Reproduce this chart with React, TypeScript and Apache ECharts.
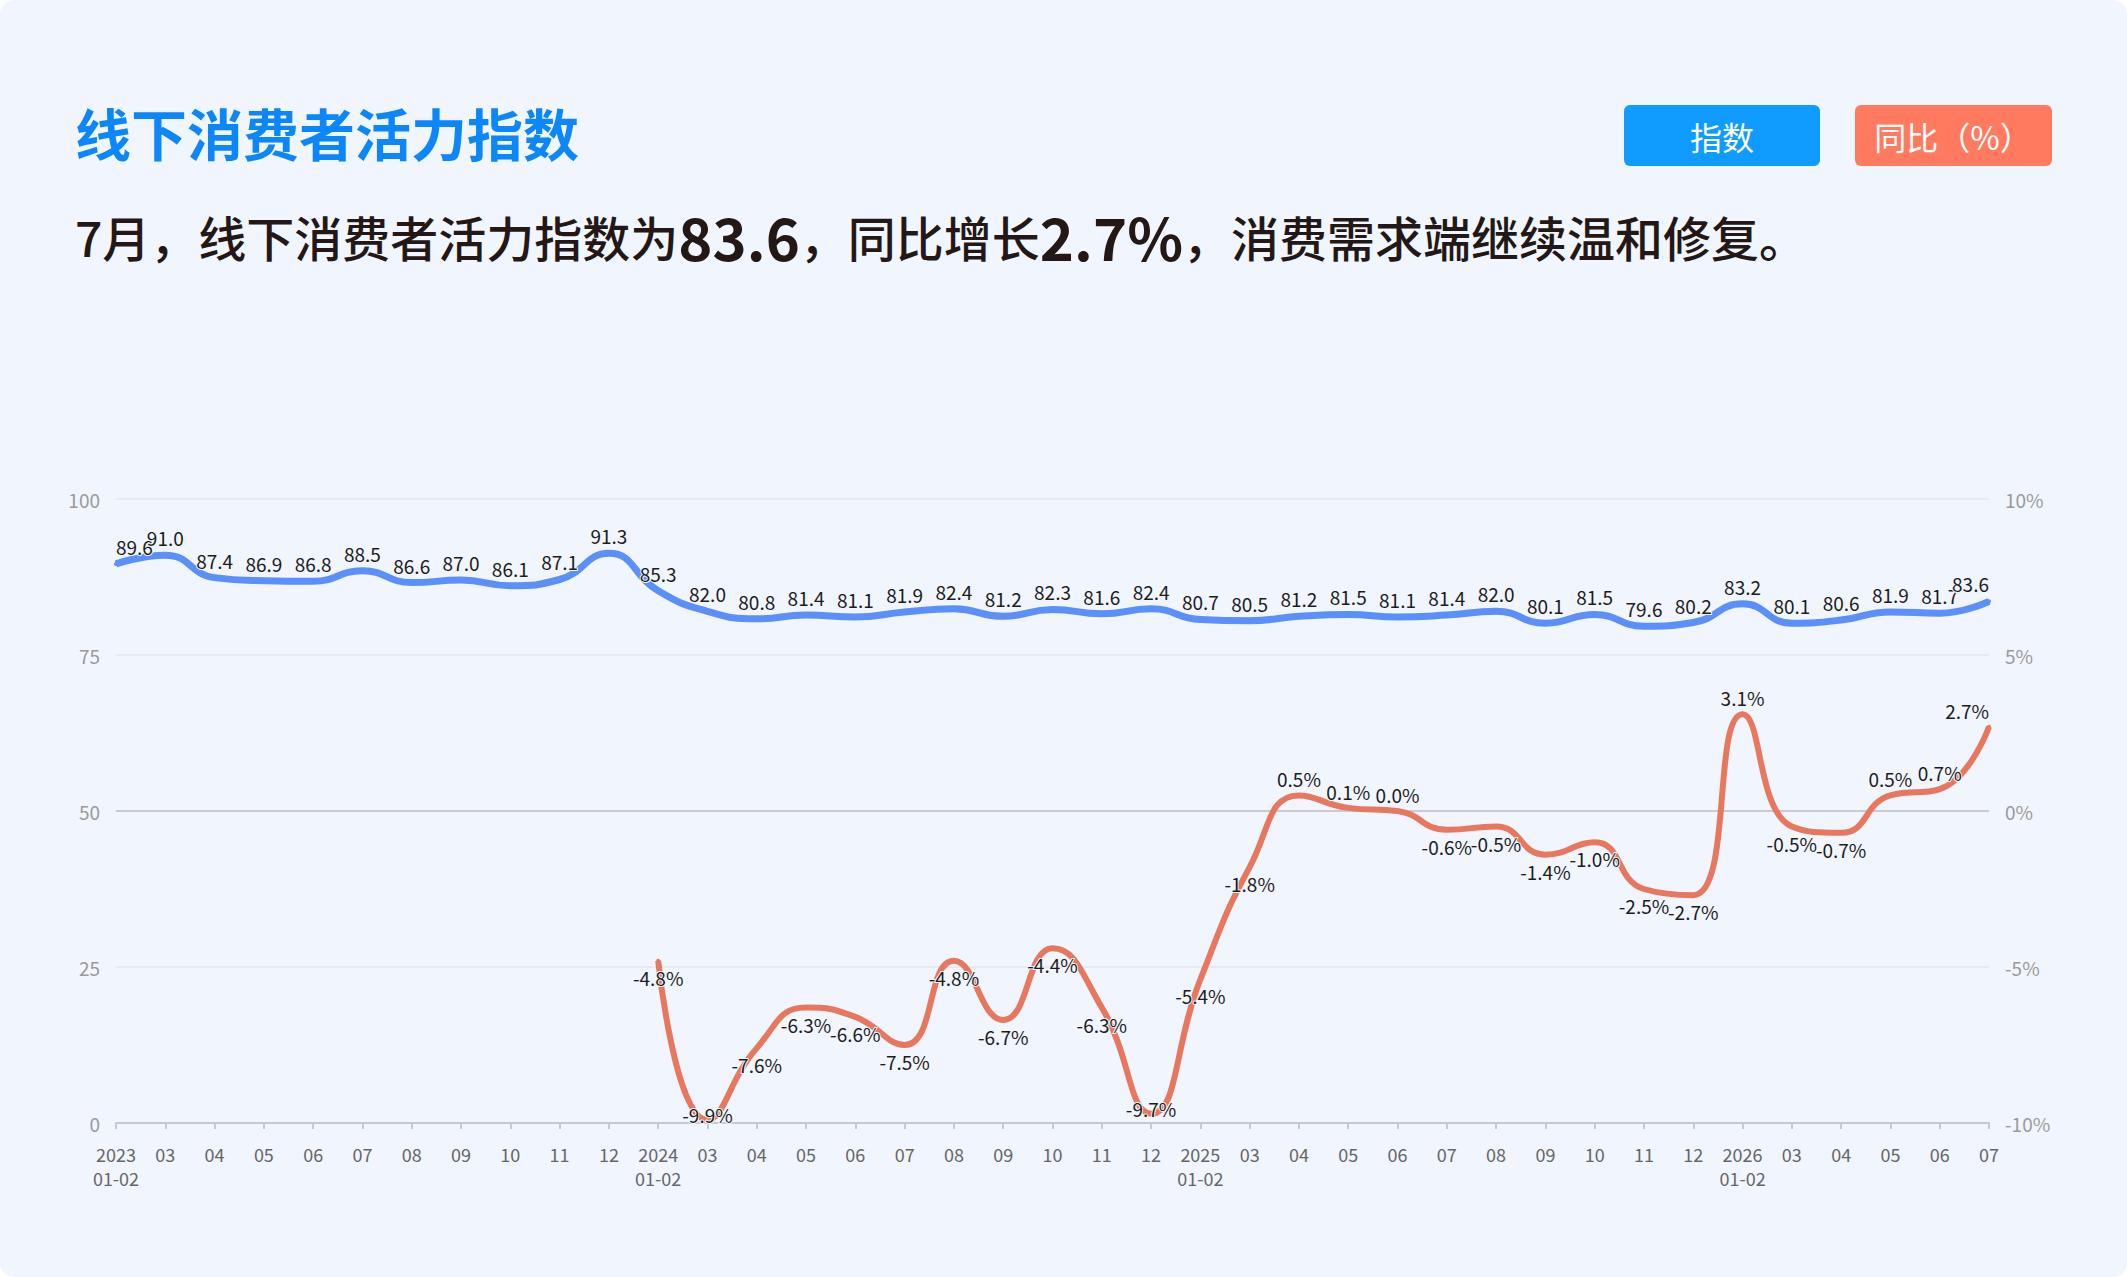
import React, { useEffect, useRef } from 'react';
import * as echarts from 'echarts';

const FONT = '"Noto Sans CJK SC", "Noto Sans", sans-serif';

const titleText = '线下消费者活力指数';
const subtitleParts = ['7月，线下消费者活力指数为', '83.6', '，同比增长', '2.7%', '，消费需求端继续温和修复。'];
const legendNames = ['指数', '同比（%）'];

const categories = [
  '2023\n01-02', '03', '04', '05', '06', '07', '08', '09', '10', '11', '12',
  '2024\n01-02', '03', '04', '05', '06', '07', '08', '09', '10', '11', '12',
  '2025\n01-02', '03', '04', '05', '06', '07', '08', '09', '10', '11', '12',
  '2026\n01-02', '03', '04', '05', '06', '07',
];

const indexValues = [
  89.6, 91.0, 87.4, 86.9, 86.8, 88.5, 86.6, 87.0, 86.1, 87.1, 91.3,
  85.3, 82.0, 80.8, 81.4, 81.1, 81.9, 82.4, 81.2, 82.3, 81.6, 82.4,
  80.7, 80.5, 81.2, 81.5, 81.1, 81.4, 82.0, 80.1, 81.5, 79.6, 80.2,
  83.2, 80.1, 80.6, 81.9, 81.7, 83.6,
];

const yoyValues: (number | null)[] = [
  null, null, null, null, null, null, null, null, null, null, null,
  -4.8, -9.9, -7.6, -6.3, -6.6, -7.5, -4.8, -6.7, -4.4, -6.3, -9.7,
  -5.4, -1.8, 0.5, 0.1, 0.0, -0.6, -0.5, -1.4, -1.0, -2.5, -2.7,
  3.1, -0.5, -0.7, 0.5, 0.7, 2.7,
];

const leftTicks = [0, 25, 50, 75, 100];
const rightTicks = [-10, -5, 0, 5, 10];

const BLUE_LINE = '#5b8ff9';
const RED_LINE = '#e8775f';
const LABEL_COLOR = '#1c1c1c';

export default function App() {
  const ref = useRef<HTMLDivElement>(null);

  useEffect(() => {
    document.body.style.margin = '0';
    document.body.style.background = '#ffffff';
    if (!ref.current) return;
    const chart = echarts.init(ref.current, undefined, { renderer: 'svg' });

    const lastIdx = indexValues.length - 1;
    const baseLabel = {
      show: true,
      fontSize: 19,
      fontFamily: FONT,
      color: LABEL_COLOR,
      textBorderColor: '#f1f5fd',
      textBorderWidth: 2,
    };

    const indexData = indexValues.map((v, i) => ({
      value: v,
      label: {
        ...baseLabel,
        position: 'top',
        distance: 6,
        align: i === 0 ? 'left' : i === lastIdx ? 'right' : 'center',
        formatter: () => v.toFixed(1),
      },
    }));

    const yoyData = yoyValues.map((v, i) => {
      if (v === null) return { value: null };
      let position: any = v >= 0 ? 'top' : 'bottom';
      let offset: number[] = [0, 0];
      if (v <= -9.5) {
        position = 'inside';
        offset = [0, -5];
      }
      return {
        value: v,
        label: {
          ...baseLabel,
          position,
          offset,
          distance: 5,
          align: i === lastIdx ? 'right' : 'center',
          formatter: () => v.toFixed(1) + '%',
        },
      };
    });

    const option: any = {
      animation: false,
      backgroundColor: 'transparent',
      textStyle: { fontFamily: FONT },
      grid: { left: 116, right: 138, top: 499, bottom: 154, containLabel: false },
      graphic: [
        {
          type: 'text',
          x: 75,
          y: 131,
          style: {
            text: titleText,
            fontSize: 56,
            fontWeight: 'bold',
            fontFamily: FONT,
            fill: '#0b87fa',
            align: 'left',
            verticalAlign: 'middle',
          },
        },
        {
          type: 'text',
          x: 75,
          y: 236,
          style: {
            text:
              '{n|' + subtitleParts[0] + '}{b|' + subtitleParts[1] + '}{n|' + subtitleParts[2] +
              '}{b|' + subtitleParts[3] + '}{n|' + subtitleParts[4] + '}',
            align: 'left',
            verticalAlign: 'middle',
            fontFamily: FONT,
            fill: '#231815',
            rich: {
              n: { fontSize: 48, fontWeight: 500, fontFamily: FONT, fill: '#231815' },
              b: { fontSize: 58, fontWeight: 'bold', fontFamily: FONT, fill: '#231815' },
            },
          },
        },
        {
          type: 'rect',
          shape: { x: 1624, y: 105, width: 196, height: 61, r: 6 },
          style: { fill: '#0f9bff' },
        },
        {
          type: 'text',
          x: 1722,
          y: 136,
          style: {
            text: legendNames[0],
            fontSize: 32,
            fontFamily: FONT,
            fill: '#ffffff',
            align: 'center',
            verticalAlign: 'middle',
          },
        },
        {
          type: 'rect',
          shape: { x: 1855, y: 105, width: 197, height: 61, r: 6 },
          style: { fill: '#ff7a5f' },
        },
        {
          type: 'text',
          x: 1953,
          y: 136,
          style: {
            text: legendNames[1],
            fontSize: 32,
            fontFamily: FONT,
            fill: '#ffffff',
            align: 'center',
            verticalAlign: 'middle',
          },
        },
      ],
      xAxis: {
        type: 'category',
        data: categories,
        boundaryGap: false,
        axisLine: { show: true, lineStyle: { color: '#c6c9cf', width: 2 } },
        axisTick: { show: true, length: 6, lineStyle: { color: '#c6c9cf', width: 2 } },
        axisLabel: {
          interval: 0,
          color: '#666666',
          fontSize: 18,
          lineHeight: 24,
          margin: 19,
          fontFamily: FONT,
        },
        splitLine: { show: false },
      },
      yAxis: [
        {
          type: 'value',
          min: leftTicks[0],
          max: leftTicks[leftTicks.length - 1],
          interval: leftTicks[1] - leftTicks[0],
          axisLine: { show: false },
          axisTick: { show: false },
          axisLabel: { color: '#9a9a9a', fontSize: 19, margin: 16, fontFamily: FONT },
          splitLine: { show: true, lineStyle: { color: '#e2e5ec', width: 1.5 } },
        },
        {
          type: 'value',
          min: rightTicks[0],
          max: rightTicks[rightTicks.length - 1],
          interval: rightTicks[1] - rightTicks[0],
          axisLine: { show: false },
          axisTick: { show: false },
          axisLabel: {
            color: '#9a9a9a',
            fontSize: 19,
            margin: 16,
            fontFamily: FONT,
            formatter: (v: number) => v + '%',
          },
          splitLine: { show: false },
        },
      ],
      series: [
        {
          name: legendNames[0],
          type: 'line',
          yAxisIndex: 0,
          smooth: true,
          showSymbol: true,
          symbol: 'circle',
          symbolSize: 4,
          itemStyle: { color: BLUE_LINE },
          lineStyle: { color: BLUE_LINE, width: 7 },
          data: indexData,
          z: 3,
        },
        {
          name: legendNames[1],
          type: 'line',
          yAxisIndex: 1,
          smooth: true,
          showSymbol: true,
          symbol: 'circle',
          symbolSize: 4,
          connectNulls: false,
          itemStyle: { color: RED_LINE },
          lineStyle: { color: RED_LINE, width: 6 },
          data: yoyData,
          z: 4,
          markLine: {
            silent: true,
            symbol: 'none',
            label: { show: false },
            lineStyle: { color: '#c9cbd0', width: 2, type: 'solid' },
            data: [{ yAxis: 0 }],
            z: 1,
          },
        },
      ],
    };

    chart.setOption(option);
    return () => chart.dispose();
  }, []);

  return (
    <div style={{ width: 2127, height: 1277, background: '#ffffff' }}>
      <div
        ref={ref}
        style={{ width: 2127, height: 1277, background: '#f1f5fd', borderRadius: 14, overflow: 'hidden' }}
      />
    </div>
  );
}
